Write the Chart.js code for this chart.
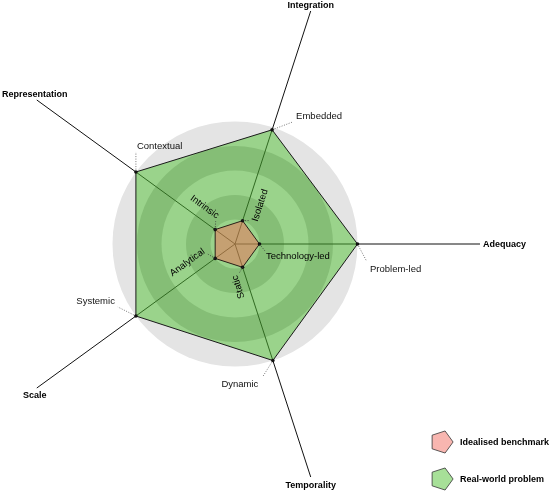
<!DOCTYPE html>
<html><head><meta charset="utf-8">
<script src="https://cdn.jsdelivr.net/npm/chart.js@4.4.0/dist/chart.umd.min.js"></script>
<style>
html,body{margin:0;padding:0;background:#fff;overflow:hidden;}
#wrap{position:relative;width:550px;height:493px;overflow:hidden;background:#fff;}
#c{position:absolute;left:-10px;top:-1px;}
</style></head><body>
<div id="wrap"><canvas id="c" width="560" height="494"></canvas></div>
<script>
// ---- data ----
const dimensions = ['Adequacy', 'Temporality', 'Scale', 'Representation', 'Integration'];
const innerPoles = ['Technology-led', 'Static', 'Analytical', 'Intrinsic', 'Isolated'];
const outerPoles = ['Problem-led', 'Dynamic', 'Systemic', 'Contextual', 'Embedded'];
const seriesNames = ['Idealised benchmark', 'Real-world problem'];
const idealisedBenchmark = [1, 1, 1, 1, 1];
const realWorldProblem = [5, 5, 5, 5, 4.9];
const ringValues = [1, 2, 3, 4, 5];

// ---- styles ----
const FONT = '"Liberation Sans", Arial, Helvetica, sans-serif';
const PAGE_OFFSET = {x: 10, y: 1}; // canvas is shifted by (-10,-1) on the page
const titleStyle = [
  {dx: 3, dy: 1, align: 'left'},
  {dx: 0, dy: 9, align: 'center'},
  {dx: -2, dy: 8, align: 'center'},
  {dx: -2, dy: -5, align: 'center'},
  {dx: 0, dy: -5.5, align: 'center'}
];
const outerStyle = [
  {dx: 12.5, dy: 25, align: 'left', lx: 9, ly: 17},
  {dx: -33, dy: 23.5, align: 'center', lx: -10, ly: 16},
  {dx: -21, dy: -15, align: 'right', lx: -18, ly: -9},
  {dx: 1, dy: -26, align: 'left', lx: 0, ly: -20},
  {dx: 24, dy: -13, align: 'left', lx: 21, ly: -8}
];
const innerStyle = [
  {start: 31, perp: 12},
  {start: 30, perp: 10},
  {start: 29, perp: 13},
  {start: 30, perp: 12},
  {start: 28, perp: 12}
];

const ringPlugin = {
  id: 'rings',
  beforeDraw(chart) {
    const s = chart.scales.r, ctx = chart.ctx;
    const cx = s.xCenter, cy = s.yCenter;
    const rr = v => s.getDistanceFromCenterForValue(v);
    ctx.save();
    ctx.fillStyle = '#e4e4e4';
    ctx.beginPath(); ctx.arc(cx, cy, rr(ringValues[4]), 0, Math.PI * 2); ctx.fill();
    ctx.fillStyle = '#bababa';
    [[ringValues[2], ringValues[3]], [ringValues[0], ringValues[1]]].forEach(([a, b]) => {
      ctx.beginPath();
      ctx.arc(cx, cy, rr(b), 0, Math.PI * 2);
      ctx.arc(cx, cy, rr(a), 0, Math.PI * 2, true);
      ctx.fill('evenodd');
    });
    ctx.restore();
  }
};

function pentagon(ctx, cx, cy, R) {
  ctx.beginPath();
  for (let k = 0; k < 5; k++) {
    const a = k * 2 * Math.PI / 5;
    const x = cx + R * Math.cos(a), y = cy + R * Math.sin(a);
    k ? ctx.lineTo(x, y) : ctx.moveTo(x, y);
  }
  ctx.closePath();
}

const labelPlugin = {
  id: 'labels',
  afterDraw(chart) {
    const s = chart.scales.r, ctx = chart.ctx;
    const cx = s.xCenter, cy = s.yCenter;
    ctx.save();
    ctx.textBaseline = 'middle';
    for (let i = 0; i < dimensions.length; i++) {
      const a = s.getIndexAngle(i) - Math.PI / 2;
      const ux = Math.cos(a), uy = Math.sin(a);
      const nx = Math.cos(a + Math.PI / 2), ny = Math.sin(a + Math.PI / 2);
      // outer pole
      const vo = s.getPointPosition(i, s.getDistanceFromCenterForValue(realWorldProblem[i]));
      const os = outerStyle[i];
      ctx.strokeStyle = '#555'; ctx.lineWidth = 0.8; ctx.setLineDash([1, 1.5]);
      ctx.beginPath();
      ctx.moveTo(vo.x + os.lx * 0.12, vo.y + os.ly * 0.12);
      ctx.lineTo(vo.x + os.lx, vo.y + os.ly);
      ctx.stroke();
      ctx.setLineDash([]);
      ctx.fillStyle = '#111';
      ctx.font = '9.5px ' + FONT;
      ctx.textAlign = os.align;
      ctx.fillText(outerPoles[i], vo.x + os.dx, vo.y + os.dy);
      // inner pole
      const is = innerStyle[i];
      const vi = s.getPointPosition(i, s.getDistanceFromCenterForValue(idealisedBenchmark[i]));
      const w = ctx.measureText(innerPoles[i]).width;
      const along = is.start + w / 2;
      const tx = cx + ux * along + nx * is.perp;
      const ty = cy + uy * along + ny * is.perp;
      const lx = cx + ux * (is.start - 1) + nx * (is.perp - 5);
      const ly = cy + uy * (is.start - 1) + ny * (is.perp - 5);
      ctx.strokeStyle = '#333'; ctx.setLineDash([1, 1.5]);
      ctx.beginPath(); ctx.moveTo(vi.x, vi.y); ctx.lineTo(lx, ly); ctx.stroke();
      ctx.setLineDash([]);
      let deg = a * 180 / Math.PI;
      deg = ((deg + 180) % 360 + 360) % 360 - 180;
      if (deg > 0.5) deg -= 180; else if (deg < -90.5) deg += 180;
      ctx.save();
      ctx.translate(tx, ty);
      ctx.rotate(deg * Math.PI / 180);
      ctx.textAlign = 'center';
      ctx.fillStyle = '#000';
      ctx.fillText(innerPoles[i], 0, 0);
      ctx.restore();
      // axis titles
      const end = s.getPointPosition(i, s.drawingArea);
      const ts = titleStyle[i];
      ctx.font = 'bold 9px ' + FONT;
      ctx.textAlign = ts.align;
      ctx.fillStyle = '#000';
      ctx.fillText(dimensions[i], end.x + ts.dx, end.y + ts.dy);
    }
    // legend
    ctx.translate(PAGE_OFFSET.x, PAGE_OFFSET.y);
    const legendItems = chart.data.datasets.map(d => ({text: d.label, fill: d.legendColor}));
    legendItems.forEach((it, k) => {
      const y = 442 + k * 37;
      pentagon(ctx, 441.5, y, 11.6);
      ctx.fillStyle = it.fill; ctx.fill();
      ctx.strokeStyle = '#333'; ctx.lineWidth = 0.8; ctx.stroke();
      ctx.fillStyle = '#000';
      ctx.font = 'bold 9px ' + FONT;
      ctx.textAlign = 'left';
      ctx.textBaseline = 'middle';
      ctx.fillText(it.text, 460, y + 0.5);
    });
    ctx.restore();
  }
};

new Chart(document.getElementById('c'), {
  type: 'radar',
  data: {
    labels: dimensions,
    datasets: [
      {
        label: seriesNames[0], data: idealisedBenchmark,
        backgroundColor: 'rgba(240,110,90,0.5)', legendColor: '#f8b6b0',
        borderColor: '#2a2018', borderWidth: 1,
        pointRadius: 1.8, pointBackgroundColor: '#111', pointBorderWidth: 0
      },
      {
        label: seriesNames[1], data: realWorldProblem,
        backgroundColor: 'rgba(79,193,49,0.5)', legendColor: '#a7e098',
        borderColor: '#1a1a1a', borderWidth: 1,
        pointRadius: 1.8, pointBackgroundColor: '#111', pointBorderWidth: 0
      }
    ]
  },
  options: {
    responsive: false, animation: false, devicePixelRatio: 1,
    layout: {padding: {left: 0, top: 0, right: 70, bottom: 4}},
    plugins: {legend: {display: false}, tooltip: {enabled: false}},
    elements: {line: {tension: 0}},
    scales: {
      r: {
        min: 0, max: 10, startAngle: 90,
        ticks: {display: false, stepSize: 1},
        grid: {display: false},
        angleLines: {display: true, color: '#111', lineWidth: 1},
        pointLabels: {display: false}
      }
    }
  },
  plugins: [ringPlugin, labelPlugin]
});
</script>
</body></html>
